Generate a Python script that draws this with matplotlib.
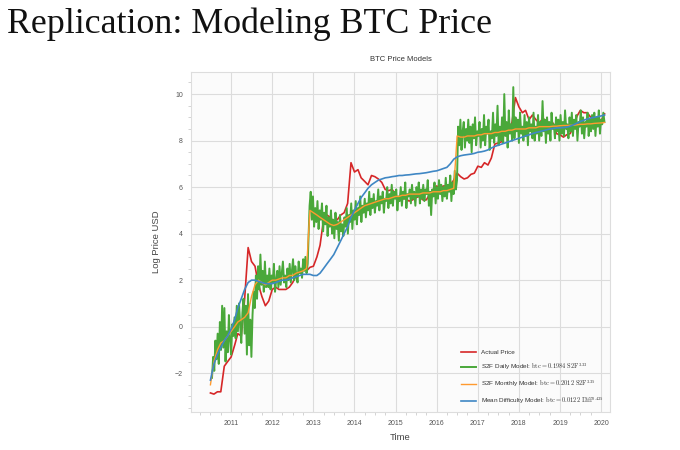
import matplotlib
matplotlib.use("Agg")
import matplotlib.pyplot as plt
import matplotlib.dates as mdates
from matplotlib.ticker import MultipleLocator
import pandas as pd

# ---------------- data (log price USD) ----------------
red_start = "2010-07-01"
red_actual = [
    -2.85, -2.9, -2.8, -2.8, -1.7, -1.5,
    -1.3, -0.8, -0.3, -0.4, 1.2, 3.4, 2.8, 2.6, 1.8, 1.3, 0.9, 1.1,
    1.6, 1.7, 1.6, 1.6, 1.6, 1.7, 1.9, 2.2, 2.4, 2.5, 2.4, 2.55,
    2.6, 3.0, 3.5, 4.6, 4.8, 4.7, 4.5, 4.6, 4.8, 4.9, 5.3, 7.05,
    6.65, 6.75, 6.4, 6.25, 6.1, 6.5, 6.45, 6.35, 6.2, 5.9, 5.85, 5.9,
    5.7, 5.4, 5.5, 5.5, 5.4, 5.45, 5.55, 5.6, 5.45, 5.45, 5.7, 5.9,
    6.05, 5.95, 6.05, 6.05, 6.1, 6.3, 6.6, 6.45, 6.35, 6.4, 6.55, 6.6,
    6.9, 6.85, 7.05, 6.95, 7.25, 7.85, 7.9, 7.95, 8.45, 8.35, 8.8, 9.85,
    9.45, 9.2, 9.3, 8.9, 9.1, 8.9, 8.75, 8.95, 8.85, 8.75, 8.75, 8.3,
    8.25, 8.15, 8.25, 8.3, 8.6, 9.05, 9.3, 9.2, 9.2, 9.0, 9.0, 8.9,
    8.85, 9.15,
]

green_a_start = "2010-07-15"
green_daily_a = [
    -2.2, -1.3, -1.9, -0.6, -1.4, -0.3, -1.6, 0.2, -1.0, 0.9,
    -0.9, 0.8, -1.5, -0.2, -1.1, 0.5, -0.6, -1.2, 0.1, -0.4,
    0.4, -0.5, 0.9, -0.2, 1.0, 0.1, -0.7, 0.6, 1.2, -0.3,
    0.9, -1.2, 1.4, -0.8, 0.3, -1.3, 0.5, 1.5, 0.8, 2.2,
    1.2, 2.6, 1.6, 3.1, 1.8, 2.4, 1.5, 2.8, 1.7, 2.2,
    1.7, 2.5, 1.6, 2.2, 1.9, 2.7, 1.5, 2.0, 2.4, 1.7,
    2.6, 1.8, 2.3, 2.8, 1.9, 2.2, 1.7, 2.5, 2.0, 2.7,
    1.9, 2.4, 2.9, 2.0, 2.6, 2.2, 1.9, 2.8, 2.3, 2.5,
    2.1, 2.9, 2.4, 3.0, 2.3, 2.7,
]
green_b_start = "2012-11-28"
green_daily_b = [
    5.2, 5.8, 4.6, 5.6, 4.3, 5.1, 4.5, 5.4, 4.2, 5.0,
    4.6, 5.3, 4.1, 4.9, 4.4, 5.2, 3.9, 4.7, 4.3, 5.0,
    4.0, 4.6, 3.8, 4.9, 4.2, 4.5, 3.7, 4.8, 4.1, 4.4,
    3.9, 4.7, 4.3, 5.1, 4.0, 4.8, 4.5, 5.3, 4.2, 5.0,
    4.6, 5.4, 4.4, 5.1, 4.8, 5.6, 4.5, 5.2, 4.9, 5.5,
    4.7, 5.3, 5.0, 5.8, 4.8, 5.5, 5.1, 5.7, 4.9, 5.4,
    5.2, 5.9, 5.0, 5.6, 5.3, 5.8, 4.9, 5.5, 5.4, 6.0,
    5.1, 5.7, 5.3, 6.1, 5.2, 5.8, 5.5, 5.9, 5.0, 5.6,
    5.4, 6.0, 5.2, 5.8, 5.5, 6.2, 5.1, 5.7, 5.6, 5.9,
    5.3, 6.1, 5.5, 5.8, 5.2, 6.0, 5.6, 6.2, 5.3, 5.9,
    5.5, 6.1, 5.4, 5.9, 5.7, 6.3, 5.2, 5.8, 4.8, 5.9,
    5.6, 6.2, 5.3, 6.0, 5.5, 6.3, 5.7, 6.1, 5.4, 6.0,
    5.6, 6.4, 5.5, 6.1, 5.8, 6.5, 5.4, 6.2, 5.7, 6.7, 5.9, 6.3,
]
green_c_start = "2016-07-10"
green_daily_c = [
    8.6, 7.8, 8.9, 7.6, 8.4, 8.8, 7.7, 8.5, 8.0, 8.9,
    7.9, 8.6, 7.5, 8.7, 8.1, 9.0, 7.8, 8.4, 8.2, 8.8,
    7.7, 8.5, 8.0, 9.1, 7.8, 8.6, 8.3, 8.9, 7.6, 8.4,
    8.1, 9.2, 7.9, 8.7, 8.2, 9.5, 7.8, 8.6, 8.0, 9.0,
    7.9, 10.0, 8.2, 8.8, 7.7, 9.3, 8.3, 8.7, 8.0, 10.3,
    8.1, 9.0, 8.4, 8.9, 7.9, 9.2, 8.3, 8.6, 8.0, 9.1,
    8.2, 8.8, 7.8, 9.0, 8.4, 8.7, 8.1, 9.2, 8.0, 8.6,
    8.3, 9.1, 8.0, 8.8, 8.2, 9.7, 8.4, 8.9, 7.9, 9.0,
    8.3, 8.8, 8.0, 9.2, 8.5, 8.7, 8.1, 9.0, 8.4, 8.9,
    8.0, 9.1, 8.3, 8.8, 8.2, 9.3, 8.5, 8.7, 8.1, 9.0,
    8.4, 9.2, 8.2, 8.9, 8.5, 9.1, 8.0, 8.8, 8.6, 9.3,
    8.3, 9.0, 8.1, 8.8, 8.6, 9.2, 8.2, 8.9, 8.4, 9.1,
    8.5, 9.2, 8.2, 9.0, 8.6, 9.3, 8.3, 8.9, 8.7, 9.2, 8.8,
]

orange_start = "2010-07-01"
orange_monthly = [
    -2.5, -1.5, -1.0, -0.7, -0.6, -0.4,
    -0.2, 0.0, 0.2, 0.3, 0.4, 0.6, 1.3, 1.8, 2.0, 1.9, 1.8, 1.9,
    2.0, 2.0, 2.05, 2.1, 2.1, 2.2, 2.2, 2.3, 2.35, 2.4, 2.5, 5.0,
    4.9, 4.8, 4.7, 4.6, 4.5, 4.4, 4.35, 4.4, 4.5, 4.6, 4.7, 4.8,
    4.9, 5.0, 5.1, 5.2, 5.25, 5.3, 5.35, 5.4, 5.45, 5.5, 5.5, 5.55,
    5.6, 5.6, 5.65, 5.65, 5.7, 5.7, 5.7, 5.7, 5.75, 5.75, 5.75, 5.8,
    5.8, 5.8, 5.85, 5.85, 5.9, 5.95, 8.2, 8.15, 8.15, 8.2, 8.2, 8.2,
    8.25, 8.25, 8.3, 8.3, 8.3, 8.35, 8.35, 8.4, 8.4, 8.45, 8.45, 8.5,
    8.5, 8.5, 8.5, 8.55, 8.55, 8.55, 8.6, 8.6, 8.6, 8.6, 8.62, 8.62,
    8.64, 8.65, 8.65, 8.66, 8.66, 8.68, 8.7, 8.7, 8.72, 8.72, 8.74, 8.75,
    8.76, 8.78,
]

blue_start = "2010-07-01"
blue_difficulty = [
    -2.3, -1.6, -1.2, -0.9, -0.6, -0.4,
    -0.1, 0.3, 0.8, 1.2, 1.6, 1.9, 2.0, 2.0, 1.95, 1.9, 1.85, 1.85,
    1.85, 1.9, 1.95, 2.0, 2.0, 2.05, 2.1, 2.15, 2.2, 2.25, 2.25, 2.25,
    2.2, 2.2, 2.3, 2.5, 2.7, 2.9, 3.1, 3.4, 3.7, 4.0, 4.3, 4.7,
    5.0, 5.3, 5.55, 5.75, 5.95, 6.1, 6.2, 6.3, 6.35, 6.4, 6.42, 6.45,
    6.47, 6.5, 6.5, 6.52, 6.53, 6.55, 6.57, 6.58, 6.6, 6.62, 6.65, 6.68,
    6.7, 6.75, 6.8, 6.85, 7.0, 7.2, 7.3, 7.35, 7.38, 7.4, 7.42, 7.45,
    7.5, 7.52, 7.55, 7.6, 7.68, 7.75, 7.8, 7.85, 7.9, 7.95, 8.0, 8.05,
    8.1, 8.15, 8.2, 8.25, 8.3, 8.35, 8.38, 8.42, 8.46, 8.5, 8.52, 8.55,
    8.55, 8.56, 8.58, 8.62, 8.68, 8.75, 8.82, 8.88, 8.93, 8.97, 9.0, 9.03,
    9.06, 9.1,
]

labels = [
    "Actual Price",
    r"S2F Daily Model: $\mathrm{btc} = 0.1984\ \mathrm{S2F}^{3.33}$",
    r"S2F Monthly Model: $\mathrm{btc} = 0.2012\ \mathrm{S2F}^{3.35}$",
    r"Mean Difficulty Model: $\mathrm{btc} = 0.0122\ \mathrm{Diff}^{0.425}$",
]
colors = ["#d62728", "#4aa83a", "#ff9a2e", "#3f87c4"]

# ---------------- figure ----------------
plt.rcParams["font.family"] = ["Liberation Sans", "DejaVu Sans"]
plt.rcParams["mathtext.fontset"] = "cm"

fig = plt.figure(figsize=(6.8, 4.5), dpi=100)
fig.patch.set_facecolor("white")
fig.text(0.011, 0.983, "Replication: Modeling BTC Price", family="Liberation Serif",
         fontsize=25.8, va="top", ha="left", color="#111111")

ax = fig.add_axes([0.281, 0.0844, 0.616, 0.7556])
ax.set_facecolor("#fbfbfb")

def series_dates(start, n, freq):
    return pd.date_range(start, periods=n, freq=freq)

ax.plot(series_dates(red_start, len(red_actual), "MS"), red_actual,
        color=colors[0], lw=1.2, label=labels[0], zorder=2)
ga = series_dates(green_a_start, len(green_daily_a), "10D")
gb = series_dates(green_b_start, len(green_daily_b), "10D")
gc = series_dates(green_c_start, len(green_daily_c), "10D")
gdates = ga.append(gb).append(gc)
gvals = green_daily_a + green_daily_b + green_daily_c
ax.plot(gdates, gvals, color=colors[1], lw=1.4, label=labels[1], zorder=3)
ax.plot(series_dates(orange_start, len(orange_monthly), "MS"), orange_monthly,
        color=colors[2], lw=1.0, label=labels[2], zorder=4)
ax.plot(series_dates(blue_start, len(blue_difficulty), "MS"), blue_difficulty,
        color=colors[3], lw=1.2, label=labels[3], zorder=5)

ax.set_xlim(pd.Timestamp("2010-01-10"), pd.Timestamp("2020-03-20"))
ax.set_ylim(-3.67, 10.95)
ax.xaxis.set_major_locator(mdates.YearLocator())
ax.xaxis.set_major_formatter(mdates.DateFormatter("%Y"))
ax.xaxis.set_minor_locator(mdates.MonthLocator(bymonth=[4, 7, 10]))
ax.yaxis.set_major_locator(MultipleLocator(2))
ax.yaxis.set_minor_locator(MultipleLocator(0.5))

ax.grid(True, which="major", color="#dcdcdc", lw=0.8)
ax.set_axisbelow(True)
for s in ax.spines.values():
    s.set_color("#dddddd")
    s.set_linewidth(0.8)
ax.tick_params(which="major", length=0, labelsize=5, labelcolor="#555555", pad=6)
ax.tick_params(which="minor", length=2.5, color="#cccccc", width=0.6)

ax.set_title("BTC Price Models", fontsize=5.5, color="#333333", pad=8)
ax.set_xlabel("Time", fontsize=6.8, color="#444444", labelpad=4)
ax.set_ylabel("Log Price USD", fontsize=6.8, color="#444444", labelpad=10)

leg = ax.legend(loc="lower right", fontsize=4.6, frameon=False, handlelength=2.2,
                handletextpad=0.9, labelspacing=0.95, borderaxespad=0.5,
                labelcolor="#333333")

fig.savefig("out.png", dpi=100)
